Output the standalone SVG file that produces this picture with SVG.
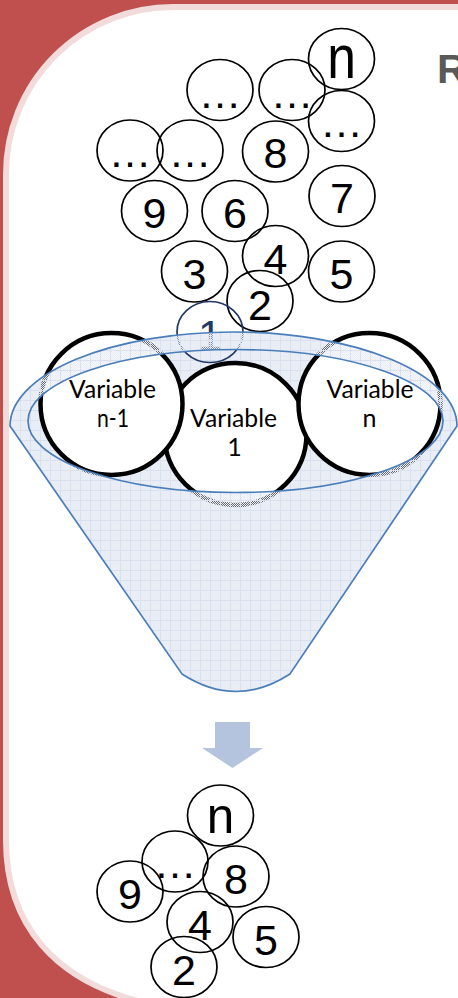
<svg xmlns="http://www.w3.org/2000/svg" width="458" height="998" viewBox="0 0 458 998">
<style>
.ball{fill:none;stroke:#000;stroke-width:1.7}
.num{font-family:"Liberation Sans",Arial,sans-serif;font-size:43px;fill:#000;text-anchor:middle}
.var{fill:#fff;stroke:#000;stroke-width:4.5}
.vt{font-family:Lato,"Open Sans",sans-serif;font-size:25px;fill:#000;text-anchor:middle}
.fstroke{fill:none;stroke:#4A7EBB;stroke-width:1.7}
</style>
<defs>
<pattern id="grid" width="10" height="10" patternUnits="userSpaceOnUse">
<rect width="10" height="10" fill="#E9EDF6"/>
<path d="M0.5 0V10M0 0.5H10" stroke="#DAE0EE" stroke-width="1"/>
</pattern>
<pattern id="gridl" width="10" height="10" patternUnits="userSpaceOnUse">
<path d="M0.5 0V10M0 0.5H10" stroke="#DAE0EE" stroke-width="1"/>
</pattern>
<pattern id="chk" width="2" height="2" patternUnits="userSpaceOnUse">
<rect width="2" height="2" fill="#E9EDF6" fill-opacity="0.45"/>
<rect width="1" height="1" fill="#E9EDF6"/>
<rect x="1" y="1" width="1" height="1" fill="#E9EDF6"/>
</pattern>
<path id="funnelShape" d="M10 426A223.5 94 0 0 1 457 426L290 674Q236 709 182 674Z"/>
</defs>

<g id="background">
<rect width="458" height="998" fill="#C0504D"/>
<path d="M6 174A167 167 0 0 1 173 7H470V1030H190L160 1006C50 985 6 920 6 840Z" fill="#fff" stroke="#F2DCDB" stroke-width="6"/>
<text x="437" y="83" font-family="'Liberation Sans',Arial,sans-serif" font-weight="bold" font-size="41" fill="#595959">R</text>
</g>

<g id="funnel-back">
<use href="#funnelShape" fill="url(#grid)"/>
</g>

<g id="top-balls">
<g id="ball-n"><ellipse class="ball" cx="341.5" cy="59" rx="33" ry="30.5"/><text class="num" transform="translate(341.5 78) scale(1.2 1.42)">n</text></g>
<g id="ball-dots1"><ellipse class="ball" cx="220" cy="90" rx="33" ry="30.5"/><text class="num" x="220" y="108">…</text></g>
<g id="ball-dots2"><ellipse class="ball" cx="292" cy="90" rx="33" ry="30.5"/><text class="num" x="292" y="108">…</text></g>
<g id="ball-dots3"><ellipse class="ball" cx="341.5" cy="121" rx="33" ry="30.5"/><text class="num" x="341.5" y="137">…</text></g>
<g id="ball-dots4"><ellipse class="ball" cx="130" cy="150.5" rx="33" ry="30.5"/><text class="num" x="130" y="167">…</text></g>
<g id="ball-dots5"><ellipse class="ball" cx="190" cy="150.5" rx="33" ry="30.5"/><text class="num" x="190" y="167">…</text></g>
<g id="ball-8"><ellipse class="ball" cx="275.5" cy="151.5" rx="33" ry="30.5"/><text class="num" x="275.5" y="168">8</text></g>
<g id="ball-7"><ellipse class="ball" cx="342" cy="196" rx="33" ry="30.5"/><text class="num" x="342" y="213">7</text></g>
<g id="ball-9"><ellipse class="ball" cx="154.5" cy="211" rx="33" ry="30.5"/><text class="num" x="154.5" y="228">9</text></g>
<g id="ball-6"><ellipse class="ball" cx="235" cy="211" rx="33" ry="30.5"/><text class="num" x="235" y="228">6</text></g>
<g id="ball-4"><ellipse class="ball" cx="275.5" cy="256" rx="33" ry="30.5"/><text class="num" x="275.5" y="274">4</text></g>
<g id="ball-3"><ellipse class="ball" cx="194.5" cy="271.5" rx="33" ry="30.5"/><text class="num" x="194.5" y="289">3</text></g>
<g id="ball-5"><ellipse class="ball" cx="341.5" cy="271.5" rx="33" ry="30.5"/><text class="num" x="341.5" y="289">5</text></g>
<g id="ball-2"><ellipse class="ball" cx="260" cy="301" rx="33" ry="30.5"/><text class="num" x="260" y="319.5">2</text></g>
<g id="ball-1"><ellipse class="ball" cx="210" cy="332" rx="33" ry="30.5" style="stroke:#1F3864"/><text class="num" x="210" y="350" style="fill:#1F3864">1</text></g>
</g>

<g id="var-1"><circle class="var" cx="235.5" cy="434" r="71"/><text class="vt" x="233.5" y="426.7" textLength="87" lengthAdjust="spacingAndGlyphs">Variable</text><text class="vt" x="234.5" y="455.5">1</text></g>
<g id="var-n-1"><circle class="var" cx="111.5" cy="404" r="71"/><text class="vt" x="112.5" y="398.3" textLength="87" lengthAdjust="spacingAndGlyphs">Variable</text><text class="vt" x="113" y="426.7" textLength="32" lengthAdjust="spacingAndGlyphs">n-1</text></g>
<g id="var-n"><circle class="var" cx="369.5" cy="404" r="71"/><text class="vt" x="370" y="398.3" textLength="87" lengthAdjust="spacingAndGlyphs">Variable</text><text class="vt" x="369.5" y="426.7">n</text></g>

<g id="funnel-front">
<path d="M10 426A223.5 94 0 0 1 457 426L290 674Q236 709 182 674ZM28 421A207.5 71.5 0 0 0 443 421A207.5 71.5 0 0 0 28 421Z" fill="url(#chk)" fill-rule="evenodd"/>
<path d="M10 426A223.5 94 0 0 1 457 426L290 674Q236 709 182 674ZM28 421A207.5 71.5 0 0 0 443 421A207.5 71.5 0 0 0 28 421Z" fill="url(#gridl)" fill-rule="evenodd"/>
<use href="#funnelShape" class="fstroke"/>
<ellipse class="fstroke" cx="235.5" cy="421" rx="207.5" ry="71.5"/>
</g>

<g id="connectors">
<path d="M215 722H250V748H263L232.5 768L202 748H215Z" fill="#B4C4DE"/>
</g>

<g id="bottom-balls">
<g id="bball-n"><ellipse class="ball" cx="220.5" cy="815.5" rx="33" ry="30.5"/><text class="num" transform="translate(220.5 833) scale(1.15 1.17)">n</text></g>
<g id="bball-dots"><ellipse class="ball" cx="175" cy="861.5" rx="33" ry="30.5"/><text class="num" x="175" y="878">…</text></g>
<g id="bball-9"><ellipse class="ball" cx="130" cy="891.5" rx="33" ry="30.5"/><text class="num" x="130" y="909">9</text></g>
<g id="bball-8"><ellipse class="ball" cx="236" cy="876.5" rx="33" ry="30.5"/><text class="num" x="236" y="893.5">8</text></g>
<g id="bball-4"><ellipse class="ball" cx="200" cy="922" rx="33" ry="30.5"/><text class="num" x="200" y="940">4</text></g>
<g id="bball-5"><ellipse class="ball" cx="266" cy="937" rx="33" ry="30.5"/><text class="num" x="266" y="955">5</text></g>
<g id="bball-2"><ellipse class="ball" cx="184" cy="967" rx="33" ry="30.5"/><text class="num" x="184" y="985">2</text></g>
</g>
</svg>
